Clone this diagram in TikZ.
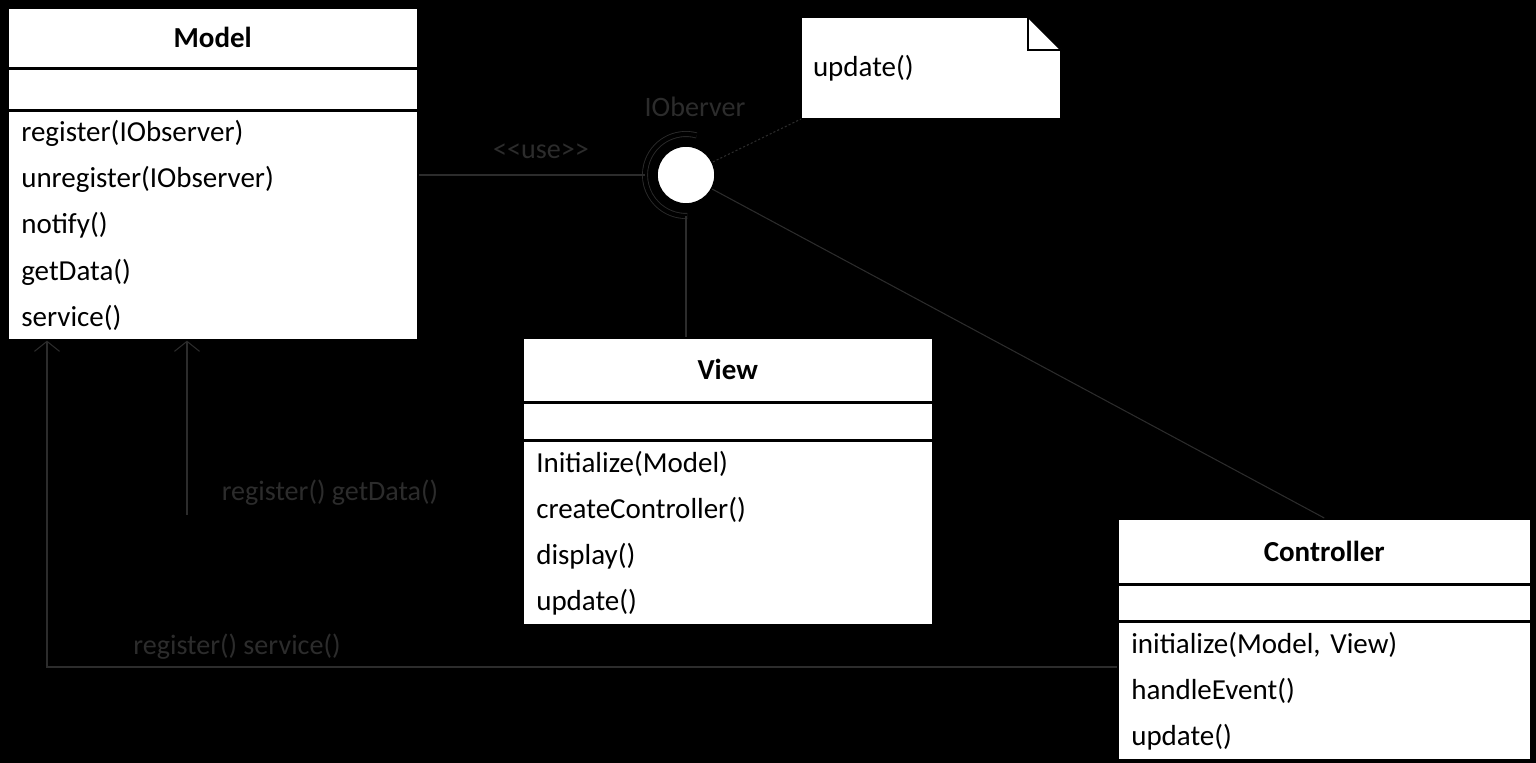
\documentclass[tikz,border=0pt]{standalone}
\usepackage{fontspec}
\setmainfont{Carlito}
\usetikzlibrary{arrows.meta,positioning,calc}
\definecolor{Wire}{RGB}{44,44,44}
\newcommand{\umlfont}{\fontsize{16.5}{26.2}\selectfont}
\tikzset{
  >=Latex,
  classtitle/.style={draw=black,line width=0.9pt,fill=white,font=\umlfont\bfseries,minimum width=8.2cm,inner sep=0pt,anchor=north west},
  classattr/.style={classtitle,font=\umlfont},
  classops/.style={draw=black,line width=0.9pt,fill=white,font=\umlfont,align=left,text width=7.66cm,inner xsep=0.27cm,inner ysep=0pt,anchor=north west},
  iball/.style={circle,draw=black,line width=0.9pt,fill=white,minimum size=1.16cm,inner sep=0pt},
  notetext/.style={font=\umlfont,align=left,text width=4.72cm,inner xsep=0.24cm,anchor=center},
  wire/.style={draw=Wire,line width=0.6pt},
  socket/.style={draw=Wire,line width=0.5pt,double=black,double distance=2.4pt},
  call/.style={wire,-{Straight Barb[length=2mm,width=5mm]}},
  dotline/.style={wire,dash pattern=on 1.2pt off 1.2pt},
  lbl/.style={font=\fontsize{16}{19}\selectfont,text=Wire}
}
\begin{document}
\begin{tikzpicture}[x=0.02cm,y=-0.02cm]
  \fill[black] (0,0) rectangle (1536,763);
  \useasboundingbox (0,0) rectangle (1536,763);
  % Model class
  \node[classtitle,minimum height=1.2cm] (modelTitle) at (7,7) {Model};
  \node[classattr,minimum height=0.8cm] (modelAttr) at (modelTitle.south west) {};
  \node[classops,minimum height=4.58cm] (modelOps) at (modelAttr.south west) {register(IObserver)\\unregister(IObserver)\\notify()\\getData()\\service()};
  % View class
  \node[classtitle,minimum height=1.28cm] (viewTitle) at (522,337) {View};
  \node[classattr,minimum height=0.72cm] (viewAttr) at (viewTitle.south west) {};
  \node[classops,minimum height=3.68cm] (viewOps) at (viewAttr.south west) {Initialize(Model)\\createController()\\display()\\update()};
  % Controller class
  \node[classtitle,minimum width=8.26cm,minimum height=1.3cm] (ctrlTitle) at (1117,518) {Controller};
  \node[classattr,minimum width=8.26cm,minimum height=0.7cm] (ctrlAttr) at (ctrlTitle.south west) {};
  \node[classops,text width=7.72cm,minimum height=2.76cm] (ctrlOps) at (ctrlAttr.south west) {initialize(Model, View)\\handleEvent()\\update()};
  % note
  \coordinate (noteNW) at (801,17);
  \coordinate (noteSE) at (1061,119);
  \coordinate (noteSW) at (noteNW |- noteSE);
  \filldraw[fill=white,draw=black,line width=0.9pt] (noteSW) -- (noteNW) -- ([xshift=-0.66cm]noteNW -| noteSE) -- ([yshift=-0.66cm]noteNW -| noteSE) -- (noteSE) -- cycle;
  \draw[black,line width=0.9pt] ([xshift=-0.66cm]noteNW -| noteSE) -- ++(0,33) -- ++(33,0);
  \node[notetext] (note) at ($(noteNW)!0.5!(noteSE)$) {update()};
  % interface
  \node[iball] (iface) at (686,175) {};
  \node[lbl] (ifaceName) at (695,107) {IOberver};
  \draw[socket] ([shift={(75:0.82cm)}]iface.center) arc[start angle=75,end angle=272,radius=0.82cm];
  \draw[wire] (modelOps.north east |- iface) -- ([xshift=-0.82cm]iface.center);
  \node[lbl] (useLbl) at (541,151) {<{}<use>{}>};
  \draw[wire] ([yshift=-0.82cm]iface.center) -- (iface |- viewTitle.north);
  \draw[wire] (iface) -- (ctrlTitle.north);
  \draw[dotline] (iface) -- (noteSW);
  % calls into the model
  \coordinate (ctrlIn) at (1117,667);
  \coordinate (dataIn) at (187,515);
  \draw[call] (ctrlIn) -| ([xshift=0.8cm]modelOps.south west);
  \draw[call] (dataIn) -- (dataIn |- modelOps.south);
  \node[lbl] (svcLbl) at (237,647) {register() service()};
  \node[lbl] (dataLbl) at (330,493) {register() getData()};
\end{tikzpicture}
\end{document}
